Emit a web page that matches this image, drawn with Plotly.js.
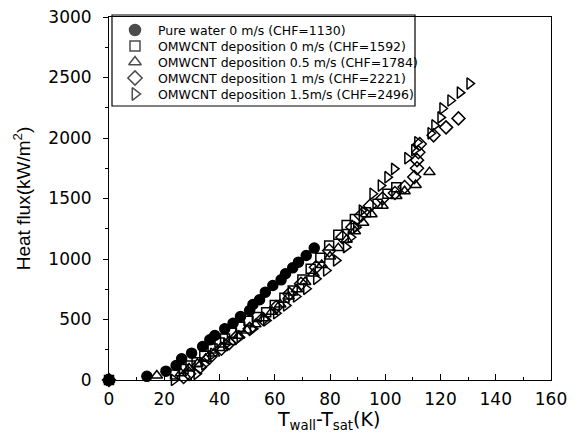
<!DOCTYPE html>
<html>
<head>
<meta charset="utf-8">
<script src="https://cdn.plot.ly/plotly-3.0.1.min.js"></script>
<style>html,body{margin:0;padding:0;background:#fff}#chart{width:579px;height:433px}</style>
</head>
<body>
<div id="chart"></div>
<script>
// Pure water 0 m/s (CHF=1130)
const waterX = [0, 13.7, 20.6, 24.3, 26.3, 29.9, 33.9, 36.5, 38.3, 41.9, 44.9, 47.6, 50.9, 52.1, 54.5, 56.6, 59.3, 62.3, 63.9, 66.5, 68.6, 71.4, 74.3];
const waterY = [0, 30, 73, 120, 175, 222, 277, 332, 368, 423, 469, 525, 574, 624, 663, 726, 781, 828, 878, 927, 974, 1029, 1090];
// OMWCNT deposition 0 m/s (CHF=1592)
const dep0X = [0, 23.9, 27, 29.5, 31.7, 34.5, 37.5, 40, 42, 44.5, 47.5, 50.5, 53.5, 56.9, 60, 63.5, 66.5, 70, 73, 76.5, 79.7, 83, 86, 89, 93, 97.2, 100.8, 104];
const dep0Y = [0, 45, 90, 120, 147, 200, 260, 310, 343, 390, 440, 490, 520, 560, 620, 680, 740, 830, 920, 1010, 1111, 1200, 1280, 1330, 1387, 1456, 1539, 1592];
// OMWCNT deposition 0.5 m/s (CHF=1784)
const dep05X = [0, 17.3, 26, 29, 32, 35, 38, 41, 44, 47, 50, 53, 56, 59, 62, 65, 68, 71, 74, 77, 80, 83, 86, 89, 92, 95, 99, 104, 107, 111, 116];
const dep05Y = [0, 37, 55, 95, 135, 175, 220, 265, 315, 365, 410, 460, 510, 565, 625, 690, 750, 810, 880, 950, 1020, 1090, 1160, 1230, 1300, 1370, 1440, 1520, 1560, 1611, 1718];
// OMWCNT deposition 1 m/s (CHF=2221)
const dep1X = [0, 27, 29, 32.9, 36.5, 40.7, 43.5, 46.1, 50.9, 55.7, 60.5, 65.3, 69.5, 74.9, 79.7, 84.5, 88.1, 91.2, 94.5, 99, 103.5, 107, 110.5, 111.5, 111.5, 112, 112.5, 117.5, 122, 126.5];
const dep1Y = [0, 25, 51, 106, 188, 258, 305, 354, 423, 506, 602, 712, 795, 932, 1070, 1180, 1263, 1360, 1440, 1500, 1545, 1595, 1677, 1750, 1817, 1882, 1950, 2022, 2088, 2162];
// OMWCNT deposition 1.5 m/s (CHF=2496)
const dep15X = [0, 23.5, 31.7, 34.5, 37.7, 42.5, 47.3, 52.1, 56.9, 60.5, 64.1, 67.7, 71.4, 75, 78.6, 82.2, 85.8, 87.5, 89.5, 91.5, 95.4, 98.4, 100.8, 103.2, 108, 110.5, 111.6, 116.4, 117.8, 120, 120.7, 123.6, 127, 130.5];
const dep15Y = [0, 0, 51, 130, 217, 299, 354, 423, 492, 552, 616, 690, 754, 836, 905, 988, 1098, 1180, 1263, 1400, 1539, 1607, 1676, 1745, 1833, 1899, 1965, 2039, 2104, 2170, 2244, 2310, 2375, 2450];

const names = [
  'Pure water 0 m/s (CHF=1130)',
  'OMWCNT deposition 0 m/s (CHF=1592)',
  'OMWCNT deposition 0.5 m/s (CHF=1784)',
  'OMWCNT deposition 1 m/s (CHF=2221)',
  'OMWCNT deposition 1.5m/s (CHF=2496)'
];
const xTitle = 'T<sub>wall</sub>-T<sub>sat</sub>(K)';
const yTitle = 'Heat flux(kW/m<sup>2</sup>)';
const xTickVals = [0, 20, 40, 60, 80, 100, 120, 140, 160];
const yTickVals = [0, 500, 1000, 1500, 2000, 2500, 3000];

const SANS = '"DejaVu Sans", sans-serif';
const ARIAL = '"Liberation Sans", Arial, sans-serif';
const series = [
  {x: waterX, y: waterY, symbol: 'circle', size: 10},
  {x: dep0X, y: dep0Y, symbol: 'square-open', size: 9},
  {x: dep05X, y: dep05Y, symbol: 'triangle-up-open', size: 10},
  {x: dep1X, y: dep1Y, symbol: 'diamond-open', size: 10},
  {x: dep15X, y: dep15Y, symbol: 'triangle-right-open', size: 10}
];
const traces = series.map((s, i) => ({
  type: 'scatter', mode: 'markers', name: names[i], showlegend: false,
  x: s.x, y: s.y, cliponaxis: false,
  marker: {symbol: s.symbol, size: s.size, color: '#000', line: {color: '#000', width: 1.5}}
}));

// Legend (drawn inside the plot, on an overlay axis spanning 0..1)
const W = 442, H = 363, L = 109, T = 17;
const rowPx = [30, 46, 62, 78, 94];
const symX = (135 - L) / W;
const textX = (156 - L) / W;
const rowY = rowPx.map(p => 1 - (p - T) / H);
traces.push({
  type: 'scatter', mode: 'markers', xaxis: 'x2', yaxis: 'y2', showlegend: false, hoverinfo: 'skip',
  x: rowY.map(() => symX), y: rowY, cliponaxis: false,
  marker: {symbol: series.map(s => s.symbol), size: series.map(s => s.size + 1), color: '#000', line: {color: '#000', width: 1.5}}
});
const annotations = names.map((n, i) => ({
  xref: 'paper', yref: 'paper', x: textX, y: rowY[i], xanchor: 'left', yanchor: 'middle',
  text: n, showarrow: false, font: {family: SANS, size: 12.5, color: '#000'}
}));
annotations.push({
  xref: 'paper', yref: 'paper', x: 0.497, y: 0, xanchor: 'center', yanchor: 'top', yshift: -26,
  text: xTitle, showarrow: false, font: {family: SANS, size: 19, color: '#000'}
});
const shapes = [{
  type: 'rect', xref: 'paper', yref: 'paper',
  x0: (112 - L) / W, x1: (415 - L) / W, y0: 1 - (106 - T) / H, y1: 1 - (15 - T) / H,
  line: {color: '#000', width: 1.2}, fillcolor: 'rgba(0,0,0,0)'
}];

const layout = {
  width: 579, height: 433,
  margin: {l: L, r: 579 - L - W, t: T, b: 433 - T - H},
  paper_bgcolor: '#fff', plot_bgcolor: '#fff',
  font: {family: SANS, color: '#000'},
  showlegend: false,
  annotations: annotations, shapes: shapes,
  xaxis: {
    range: [0, 160], tickvals: xTickVals, ticktext: xTickVals.map(String),
    ticks: 'inside', ticklen: 6, tickcolor: '#000', tickwidth: 1,
    minor: {dtick: 10, ticks: 'inside', ticklen: 3, tickcolor: '#000'},
    showline: true, linecolor: '#000', linewidth: 1, mirror: true,
    showgrid: false, zeroline: false, ticklabelstandoff: 4,
    tickfont: {family: SANS, size: 17, color: '#000'}
  },
  yaxis: {
    range: [0, 3000], tickvals: yTickVals, ticktext: yTickVals.map(String),
    ticks: 'outside', ticklen: 5, tickcolor: '#000', tickwidth: 1,
    minor: {dtick: 250, ticks: 'outside', ticklen: 3, tickcolor: '#000'},
    showline: true, linecolor: '#000', linewidth: 1, mirror: true,
    showgrid: false, zeroline: false, ticklabelstandoff: 8,
    tickfont: {family: SANS, size: 17, color: '#000'},
    title: {text: yTitle, font: {family: ARIAL, size: 19, color: '#000'}, standoff: 12}
  },
  xaxis2: {overlaying: 'x', range: [0, 1], visible: false, fixedrange: true},
  yaxis2: {overlaying: 'y', range: [0, 1], visible: false, fixedrange: true}
};
Plotly.newPlot('chart', traces, layout, {staticPlot: true, displayModeBar: false});
</script>
</body>
</html>
